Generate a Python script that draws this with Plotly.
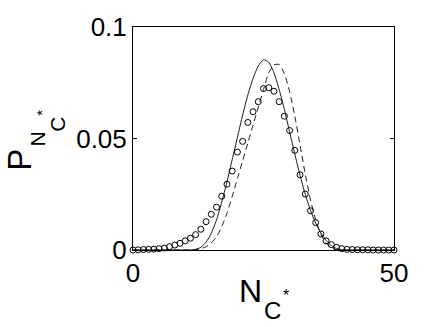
import plotly.graph_objects as go

# ---- data ----
n_values = list(range(51))

circle_values = [0.0000, 0.0001, 0.0002, 0.0003, 0.0004, 0.0006, 0.0009, 0.0015, 0.0022, 0.0030,
                 0.0041, 0.0053, 0.0069, 0.0093, 0.0127, 0.0160, 0.0192, 0.0241, 0.0295, 0.0354,
                 0.0439, 0.0487, 0.0572, 0.0620, 0.0665, 0.0724, 0.0728, 0.0712, 0.0665, 0.0600,
                 0.0536, 0.0447, 0.0337, 0.0251, 0.0176, 0.0123, 0.0072, 0.0041, 0.0024, 0.0012,
                 0.0006, 0.0003, 0.0002, 0.0001, 0.0001, 0.0001, 0.0000, 0.0000, 0.0000, 0.0000,
                 0.0000]

solid_values = [0, 0, 0, 0, 0, 0, 0, 0, 0, 0,
                0, 0, 0.0003, 0.0012, 0.0035, 0.0075, 0.0135, 0.0215, 0.0305, 0.0405,
                0.0505, 0.0605, 0.0695, 0.0770, 0.0825, 0.0853, 0.0842, 0.0795, 0.0720, 0.0630,
                0.0530, 0.0430, 0.0335, 0.0250, 0.0178, 0.0120, 0.0076, 0.0043, 0.0020, 0.0007,
                0.0001, 0, 0, 0, 0, 0, 0, 0, 0, 0,
                0]

dashed_values = [0, 0, 0, 0, 0, 0, 0, 0, 0, 0,
                 0, 0, 0.0002, 0.0006, 0.0015, 0.0032, 0.0060, 0.0105, 0.0165, 0.0240,
                 0.0320, 0.0400, 0.0480, 0.0560, 0.0640, 0.0720, 0.0795, 0.0830, 0.0832, 0.0790,
                 0.0710, 0.0600, 0.0470, 0.0340, 0.0225, 0.0135, 0.0070, 0.0030, 0.0010, 0.0002,
                 0, 0, 0, 0, 0, 0, 0, 0, 0, 0,
                 0]

x_tick_vals = [0, 50]
x_tick_text = ["0", "50"]
y_tick_vals = [0, 0.05, 0.1]
y_tick_text = ["0", "0.05", "0.1"]

FONT = "Liberation Sans, Arial, Helvetica, sans-serif"

fig = go.Figure()
fig.add_trace(go.Scatter(x=n_values, y=solid_values, mode="lines",
                         line=dict(color="black", width=0.9, shape="spline", smoothing=0.6),
                         showlegend=False))
fig.add_trace(go.Scatter(x=n_values, y=dashed_values, mode="lines",
                         line=dict(color="black", width=0.9, dash="6px,4px", shape="spline", smoothing=0.6),
                         showlegend=False))
fig.add_trace(go.Scatter(x=n_values, y=circle_values, mode="markers",
                         marker=dict(symbol="circle-open", size=6, color="black", line=dict(width=1)),
                         cliponaxis=False, showlegend=False))

W, H = 436, 327
L, R, T, B = 133, 42, 24, 77
pw, ph = W - L - R, H - T - B


def px(xp):
    return (xp - L) / pw


def py(yp):
    return (H - B - yp) / ph


annotations = []
# y-axis label: P_{N_{C}^{*}} rotated
for txt, cx, cy, size in [("P", 20, 158.5, 33), ("N", 37.5, 137.5, 21),
                          ("C", 57.5, 122.5, 21), ("*", 42, 111, 15)]:
    annotations.append(dict(text=txt, x=px(cx), y=py(cy), xref="paper", yref="paper",
                            showarrow=False, textangle=-90, xanchor="center", yanchor="middle",
                            font=dict(family=FONT, size=size, color="black")))
# x-axis label: N_C^*
for txt, cx, cy, size in [("N", 250, 291.5, 32), ("C", 272.5, 311.5, 24), ("*", 286, 296, 16)]:
    annotations.append(dict(text=txt, x=px(cx), y=py(cy), xref="paper", yref="paper",
                            showarrow=False, xanchor="center", yanchor="middle",
                            font=dict(family=FONT, size=size, color="black")))

fig.update_layout(
    width=W, height=H,
    margin=dict(l=L, r=R, t=T, b=B, pad=0),
    paper_bgcolor="white", plot_bgcolor="white",
    font=dict(family=FONT, color="black"),
    annotations=annotations,
    xaxis=dict(range=[0, 50], tickvals=x_tick_vals, ticktext=x_tick_text,
               showgrid=False, zeroline=False, showline=True, mirror="ticks",
               linecolor="black", linewidth=1, ticks="inside", ticklen=4, tickcolor="black",
               tickfont=dict(size=26, family=FONT, color="black")),
    yaxis=dict(range=[0, 0.1], tickvals=y_tick_vals, ticktext=y_tick_text,
               showgrid=False, zeroline=False, showline=True, mirror="ticks",
               linecolor="black", linewidth=1, ticks="inside", ticklen=4, tickcolor="black",
               tickfont=dict(size=26, family=FONT, color="black")),
)

fig.write_html("out.html",
               config={"displayModeBar": False},
               post_script="document.body.style.margin='0';document.body.style.padding='0';")
